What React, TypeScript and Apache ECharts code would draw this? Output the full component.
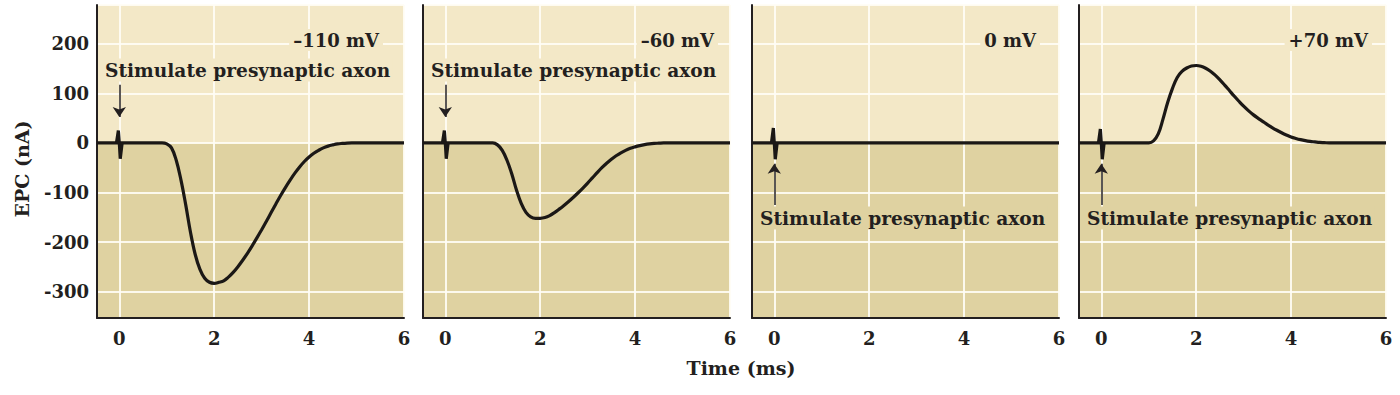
import React, { useEffect, useRef } from "react";
import * as echarts from "echarts";

// ---- data ----
const times = [
  -0.47, 0.9, 1.0, 1.1, 1.2, 1.3, 1.4, 1.5, 1.6, 1.7, 1.8, 1.9, 2.0, 2.1, 2.2, 2.3, 2.4, 2.5,
  2.6, 2.7, 2.8, 2.9, 3.0, 3.1, 3.2, 3.3, 3.4, 3.5, 3.6, 3.7, 3.8, 3.9, 4.0, 4.1, 4.2, 4.3,
  4.4, 4.5, 4.6, 4.7, 4.8, 4.9, 5.0, 6.0,
];
const epcMinus110 = [
  0, 0, -2, -10, -35, -75, -125, -180, -225, -255, -273, -281, -283, -281, -278, -270.5, -261, -249.5,
  -236.5, -222.5, -207.5, -191.5, -175, -158, -140.5, -123, -106, -90, -75, -61, -48.5, -37.5, -28.5, -21, -15, -10,
  -6.5, -4, -2, -1, -0.3, 0, 0, 0,
];
const epcMinus60 = [
  0, 0, 0, -4, -15, -35, -62, -95, -122, -140, -149, -152, -152, -150.5, -146.5, -140.5, -133.5, -126,
  -118, -109.5, -100.5, -91, -81, -70.5, -60, -50, -41, -33, -26, -20, -15, -11, -8, -5.5, -3.5, -2,
  -1, -0.5, 0, 0, 0, 0, 0, 0,
];
const epcZero = [
  0, 0, 0, 0, 0, 0, 0, 0, 0, 0, 0, 0, 0, 0, 0, 0, 0, 0,
  0, 0, 0, 0, 0, 0, 0, 0, 0, 0, 0, 0, 0, 0, 0, 0, 0, 0,
  0, 0, 0, 0, 0, 0, 0, 0,
];
const epcPlus70 = [
  0, 0, 0, 4, 18, 48, 82, 110, 132, 144, 151, 155, 156, 154.5, 150.5, 144.5, 136.5, 127,
  116.5, 105.5, 94.5, 84, 74, 65, 57, 50, 43.5, 37, 31, 25.5, 20.5, 16, 12, 9, 6.5, 4.5,
  3, 2, 1, 0.5, 0, 0, 0, 0,
];
// stimulus artifact around t = 0
const artifactTimes = [-0.06, -0.02, 0, 0.02, 0.06];
const artifactMinus110 = [0, 25, 0, -32, 0];
const artifactMinus60 = [0, 25, 0, -32, 0];
const artifactZero = [0, 30, 0, -33, 0];
const artifactPlus70 = [0, 28, 0, -33, 0];

const panelValues = [epcMinus110, epcMinus60, epcZero, epcPlus70];
const panelArtifacts = [artifactMinus110, artifactMinus60, artifactZero, artifactPlus70];
const panelLabels = ["–110 mV", "–60 mV", "0 mV", "+70 mV"];
const stimulusText = "Stimulate presynaptic axon";
const yTitle = "EPC (nA)";
const xTitle = "Time (ms)";
// arrow (start, end) in nA, pointing at the stimulus artifact at t = 0
const arrowFrom = [117, 117, -125, -125];
const arrowTo = [52, 52, -42, -42];

const X_MIN = -0.47;
const X_MAX = 6;
const Y_MIN = -353;
const Y_MAX = 278;

// ---- layout / style ----
const LEFTS = [97, 423, 752, 1079];
const GRID_W = 307;
const GRID_TOP = 5;
const GRID_H = 313;
const LIGHT = "#f3e8c7";
const DARK = "#dfd2a1";
const INK = "#231f20";
const FONT = "DejaVu Serif";
const labelRight = [383, 718, 1040, 1372];
const stimY = [70, 70, 218, 218];

export default function App() {
  const ref = useRef<HTMLDivElement>(null);

  useEffect(() => {
    if (!ref.current) return;
    const chart = echarts.init(ref.current, undefined, { renderer: "svg" });

    const grids = LEFTS.map((left) => ({
      left,
      top: GRID_TOP,
      width: GRID_W,
      height: GRID_H,
      containLabel: false,
    }));

    const gridLine = { show: true, lineStyle: { color: "rgba(255,253,245,0.9)", width: 2 } };

    const xAxes = LEFTS.map((_, i) => ({
      type: "value",
      gridIndex: i,
      min: X_MIN,
      max: X_MAX,
      splitNumber: 3,
      z: 2,
      axisLine: { show: true, onZero: false, lineStyle: { color: INK, width: 2 } },
      axisTick: { show: false },
      axisLabel: {
        showMinLabel: false,
        color: INK,
        fontFamily: FONT,
        fontWeight: "bold",
        fontSize: 18,
        margin: 11,
      },
      splitLine: gridLine,
    }));

    const yAxes = LEFTS.map((_, i) => ({
      type: "value",
      gridIndex: i,
      min: Y_MIN,
      max: Y_MAX,
      splitNumber: 5,
      z: 2,
      axisLine: { show: true, onZero: false, lineStyle: { color: INK, width: 2 } },
      axisTick: { show: false },
      axisLabel: {
        show: i === 0,
        showMinLabel: false,
        showMaxLabel: false,
        color: INK,
        fontFamily: FONT,
        fontWeight: "bold",
        fontSize: 18,
        margin: 8,
      },
      splitLine: gridLine,
    }));

    const series: any[] = [];
    LEFTS.forEach((_, i) => {
      series.push({
        type: "line",
        xAxisIndex: i,
        yAxisIndex: i,
        data: [],
        z: 0,
        silent: true,
        markArea: {
          silent: true,
          z: 0,
          data: [
            [{ yAxis: 0, itemStyle: { color: LIGHT } }, { yAxis: Y_MAX }],
            [{ yAxis: Y_MIN, itemStyle: { color: DARK } }, { yAxis: 0 }],
          ],
        },
      });
      series.push({
        type: "line",
        xAxisIndex: i,
        yAxisIndex: i,
        z: 4,
        data: times.map((t, k) => [t, panelValues[i][k]]),
        showSymbol: false,
        smooth: 0.4,
        lineStyle: { color: "#1b1816", width: 3.2 },
        markLine: {
          silent: true,
          symbol: ["none", "arrow"],
          symbolSize: 10,
          label: { show: false },
          lineStyle: { color: INK, width: 1.5, type: "solid" },
          data: [[{ coord: [0, arrowFrom[i]] }, { coord: [0, arrowTo[i]] }]],
        },
      });
      series.push({
        type: "line",
        xAxisIndex: i,
        yAxisIndex: i,
        z: 4,
        data: artifactTimes.map((t, k) => [t, panelArtifacts[i][k]]),
        showSymbol: false,
        smooth: false,
        lineStyle: { color: "#1b1816", width: 3.2 },
      });
    });

    const graphics: any[] = [];
    LEFTS.forEach((left, i) => {
      graphics.push({
        type: "text",
        z: 10,
        style: {
          text: panelLabels[i],
          x: labelRight[i],
          y: 40,
          align: "right",
          verticalAlign: "middle",
          fill: INK,
          font: `bold 18px "${FONT}"`,
          backgroundColor: LIGHT,
          padding: [2, 4],
        },
      });
      graphics.push({
        type: "text",
        z: 10,
        style: {
          text: stimulusText,
          x: left + 6,
          y: stimY[i],
          align: "left",
          verticalAlign: "middle",
          fill: INK,
          font: `bold 18.6px "${FONT}"`,
          backgroundColor: i < 2 ? LIGHT : DARK,
          padding: [2, 2],
        },
      });
    });
    graphics.push({
      type: "text",
      x: 22,
      y: 169,
      rotation: Math.PI / 2,
      style: {
        text: yTitle,
        align: "center",
        verticalAlign: "middle",
        fill: INK,
        font: `bold 19px "${FONT}"`,
      },
    });
    graphics.push({
      type: "text",
      style: {
        text: xTitle,
        x: 741,
        y: 368,
        align: "center",
        verticalAlign: "middle",
        fill: INK,
        font: `bold 19px "${FONT}"`,
      },
    });

    chart.setOption({
      animation: false,
      backgroundColor: "#ffffff",
      grid: grids,
      xAxis: xAxes,
      yAxis: yAxes,
      series,
      graphic: graphics,
    });

    return () => chart.dispose();
  }, []);

  return (
    <div
      ref={ref}
      style={{ position: "fixed", left: 0, top: 0, width: 1400, height: 395 }}
    />
  );
}
